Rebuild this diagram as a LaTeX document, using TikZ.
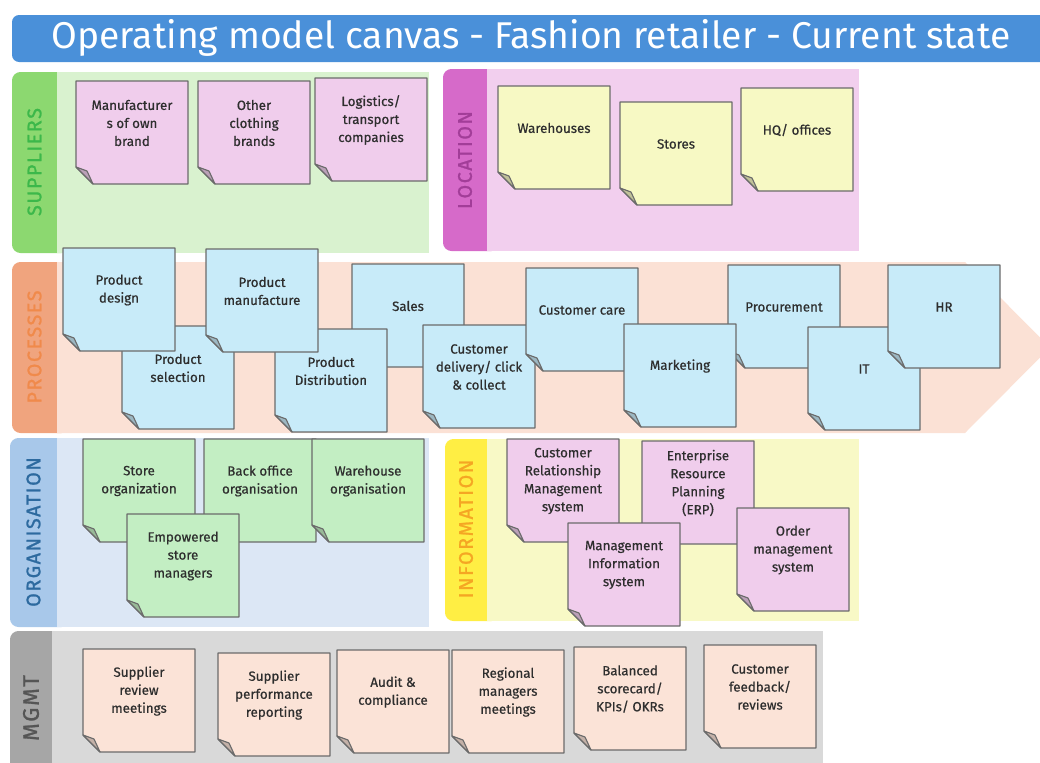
\documentclass[tikz,border=0pt]{standalone}
\usepackage{fontspec}
\setmainfont{Fira Sans}
\newfontfamily\notefont[FakeBold=0.6]{Fira Sans}
\newfontfamily\lanefont[LetterSpace=8, FakeBold=1.2]{Fira Sans}
\usetikzlibrary{positioning}

\definecolor{titleblue}{HTML}{4A90D9}
\definecolor{noteline}{HTML}{6B6B6B}
\definecolor{notetxt}{HTML}{2E2E2E}
% lane colours
\definecolor{supstrip}{HTML}{8CD870}\definecolor{suppanel}{HTML}{D9F2CF}\definecolor{suptext}{HTML}{3CB84A}
\definecolor{locstrip}{HTML}{D66AC9}\definecolor{locpanel}{HTML}{F2CFEE}\definecolor{loctext}{HTML}{A23D98}
\definecolor{prostrip}{HTML}{F0A47E}\definecolor{propanel}{HTML}{FBE1D5}\definecolor{protext}{HTML}{F08A4B}
\definecolor{orgstrip}{HTML}{A8C8EA}\definecolor{orgpanel}{HTML}{DCE7F5}\definecolor{orgtext}{HTML}{2D6A9F}
\definecolor{infstrip}{HTML}{FFEE44}\definecolor{infpanel}{HTML}{F8F9C6}\definecolor{inftext}{HTML}{F5A623}
\definecolor{mgtstrip}{HTML}{A6A6A6}\definecolor{mgtpanel}{HTML}{D9D9D9}\definecolor{mgttext}{HTML}{555555}
% sticky note colours
\definecolor{notepink}{HTML}{F0CDEC}
\definecolor{noteyellow}{HTML}{F7F9C4}
\definecolor{noteblue}{HTML}{C8EBF9}
\definecolor{notegreen}{HTML}{C3EEC3}
\definecolor{notepeach}{HTML}{FBE3D7}

% sticky note: name, left, top, colour, text
\newcommand{\sticky}[5]{%
  \filldraw[noteedge, fill=#4] (#2,#3) -- ++(112,0) -- ++(0,103) -- ++(-95,0) -- ++(-17,-17) -- cycle;
  \filldraw[noteedge, fill=#4!78!black] (#2,#3+86) -- ++(11,4) -- ++(6,13) -- cycle;
  \node[notetext] (#1) at (#2+56,#3+42) {#5};
}

\begin{document}
\begin{tikzpicture}[
    x=0.025cm, y=-0.025cm,
    lanestrip/.style={rounded corners=6pt},
    lanelabel/.style={rotate=90, font=\lanefont\fontsize{14}{14}\selectfont},
    noteedge/.style={draw=noteline, line width=0.8pt, line join=round},
    notetext/.style={font=\notefont\fontsize{9.5}{12.8}\selectfont, align=center, text=notetxt, inner sep=0pt},
]
    \useasboundingbox (0,0) rectangle (1040,763);

    % Title
    \fill[titleblue, rounded corners=5pt] (12,15) rectangle (1060,62);
    \node[text=white, font=\fontsize{26.5}{30}\selectfont] (title) at (531,38) {Operating model canvas - Fashion retailer - Current state};

    % Suppliers
    \fill[supstrip, lanestrip] (12,72) rectangle (70,253);
    \fill[suppanel] (57,72) rectangle (429,253);
    \node[lanelabel, text=suptext] (suplab) at (34.5,162) {SUPPLIERS};
    \sticky{mfr}{76}{81}{notepink}{Manufacturer\\s of own\\brand}
    \sticky{oth}{198}{81}{notepink}{Other\\clothing\\brands}
    \sticky{logi}{315}{78}{notepink}{Logistics/\\transport\\companies}

    % Location
    \fill[locstrip, lanestrip] (443,69) rectangle (500,251);
    \fill[locpanel] (487,69) rectangle (859,251);
    \node[lanelabel, text=loctext] (loclab) at (465,160) {LOCATION};
    \sticky{wh}{498}{86}{noteyellow}{Warehouses}
    \sticky{st}{620}{102}{noteyellow}{Stores}
    \sticky{hq}{741}{88}{noteyellow}{HQ/ offices}

    % Processes
    \fill[prostrip, lanestrip] (12,262) rectangle (70,433);
    \fill[propanel] (57,262) -- (965,262) -- (1050,347.5) -- (965,433) -- (57,433) -- cycle;
    \node[lanelabel, text=protext] (prolab) at (34.5,347) {PROCESSES};
    \sticky{sel}{122}{326}{noteblue}{Product\\selection}
    \sticky{des}{63}{248}{noteblue}{Product\\design}
    \sticky{sales}{352}{264}{noteblue}{Sales}
    \sticky{dist}{275}{329}{noteblue}{Product\\Distribution}
    \sticky{man}{206}{249}{noteblue}{Product\\manufacture}
    \sticky{deliv}{423}{325}{noteblue}{Customer\\delivery/ click\\\& collect}
    \sticky{care}{526}{268}{noteblue}{Customer care}
    \sticky{proc}{728}{265}{noteblue}{Procurement}
    \sticky{mkt}{624}{324}{noteblue}{Marketing}
    \sticky{it}{808}{327}{noteblue}{IT}
    \sticky{hr}{888}{265}{noteblue}{HR}

    % Organisation
    \fill[orgstrip, lanestrip] (10,438) rectangle (70,627);
    \fill[orgpanel] (57,438) rectangle (429,627);
    \node[lanelabel, text=orgtext] (orglab) at (33.5,532) {ORGANISATION};
    \sticky{sorg}{83}{439}{notegreen}{Store\\organization}
    \sticky{bo}{204}{439}{notegreen}{Back office\\organisation}
    \sticky{worg}{312}{439}{notegreen}{Warehouse\\organisation}
    \sticky{emp}{127}{514}{notegreen}{Empowered\\store\\managers}

    % Information
    \fill[infstrip, lanestrip] (445,439) rectangle (500,621);
    \fill[infpanel] (487,439) rectangle (859,621);
    \node[lanelabel, text=inftext] (inflab) at (466,529) {INFORMATION};
    \sticky{crm}{507}{439}{notepink}{Customer\\Relationship\\Management\\system}
    \sticky{erp}{642}{441}{notepink}{Enterprise\\Resource\\Planning\\(ERP)}
    \sticky{mis}{568}{523}{notepink}{Management\\Information\\system}
    \sticky{oms}{737}{508}{notepink}{Order\\management\\system}

    % Management
    \fill[mgtstrip, lanestrip] (10,631) rectangle (65,790);
    \fill[mgtpanel] (52,631) rectangle (823,790);
    \node[lanelabel, text=mgttext, font=\lanefont\fontsize{16}{16}\selectfont] (mgtlab) at (31,708) {MGMT};
    \sticky{srm}{83}{649}{notepeach}{Supplier\\review\\meetings}
    \sticky{spr}{218}{653}{notepeach}{Supplier\\performance\\reporting}
    \sticky{aud}{337}{650}{notepeach}{Audit \&\\compliance}
    \sticky{rmm}{452}{650}{notepeach}{Regional\\managers\\meetings}
    \sticky{bsc}{574}{647}{notepeach}{Balanced\\scorecard/\\KPIs/ OKRs}
    \sticky{cfr}{704}{645}{notepeach}{Customer\\feedback/\\reviews}

\end{tikzpicture}
\end{document}
